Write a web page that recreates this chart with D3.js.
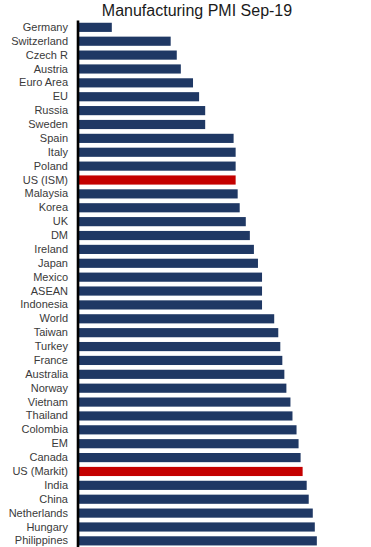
<!DOCTYPE html>
<html>
<head>
<meta charset="utf-8">
<script src="https://cdn.jsdelivr.net/npm/d3@7"></script>
<style>
  html, body { margin: 0; padding: 0; background: #fff; }
  svg { display: block; }
</style>
</head>
<body>
<svg id="chart" width="371" height="547"></svg>
<script>
const title = "Manufacturing PMI Sep-19";
const categories = ["Germany","Switzerland","Czech R","Austria","Euro Area","EU","Russia","Sweden","Spain","Italy","Poland","US (ISM)","Malaysia","Korea","UK","DM","Ireland","Japan","Mexico","ASEAN","Indonesia","World","Taiwan","Turkey","France","Australia","Norway","Vietnam","Thailand","Colombia","EM","Canada","US (Markit)","India","China","Netherlands","Hungary","Philippines"];
const values = [41.7,44.6,44.9,45.1,45.7,46.0,46.3,46.3,47.7,47.8,47.8,47.8,47.9,48.0,48.3,48.5,48.7,48.9,49.1,49.1,49.1,49.7,49.9,50.0,50.1,50.2,50.3,50.5,50.6,50.8,50.9,51.0,51.1,51.3,51.4,51.6,51.7,51.8];
const highlighted = ["US (ISM)","US (Markit)"];
const xDomain = [40, 53];

const data = categories.map((c, i) => ({ name: c, value: values[i] }));
const svg = d3.select("#chart");

const x = d3.scaleLinear().domain(xDomain).range([77.3, 77.3 + 13 * 20.3]);
const y = d3.scaleBand().domain(categories).range([20.4, 547.8]).paddingInner(0.34).paddingOuter(0.17);

svg.append("text")
  .attr("x", 197).attr("y", 16)
  .attr("text-anchor", "middle")
  .attr("font-family", "Liberation Sans, Arial, sans-serif")
  .attr("font-size", 16)
  .attr("fill", "#1a1a1a")
  .text(title);

svg.append("g").selectAll("rect").data(data).join("rect")
  .attr("x", x(xDomain[0]))
  .attr("y", d => y(d.name))
  .attr("width", d => x(d.value) - x(xDomain[0]))
  .attr("height", y.bandwidth())
  .attr("fill", d => highlighted.includes(d.name) ? "#c40000" : "#1f3864");

const yAxis = d3.axisLeft(y).tickSize(0).tickPadding(10);
const gy = svg.append("g").attr("transform", `translate(${x(xDomain[0]) + 0.7},0)`).call(yAxis);
gy.select(".domain").attr("stroke", "#000").attr("stroke-width", 2.6).attr("d", "M0,20.4V547");
gy.selectAll("text")
  .attr("font-family", "Liberation Sans, Arial, sans-serif")
  .attr("font-size", 11)
  .attr("fill", "#3a3a3a");
</script>
</body>
</html>
